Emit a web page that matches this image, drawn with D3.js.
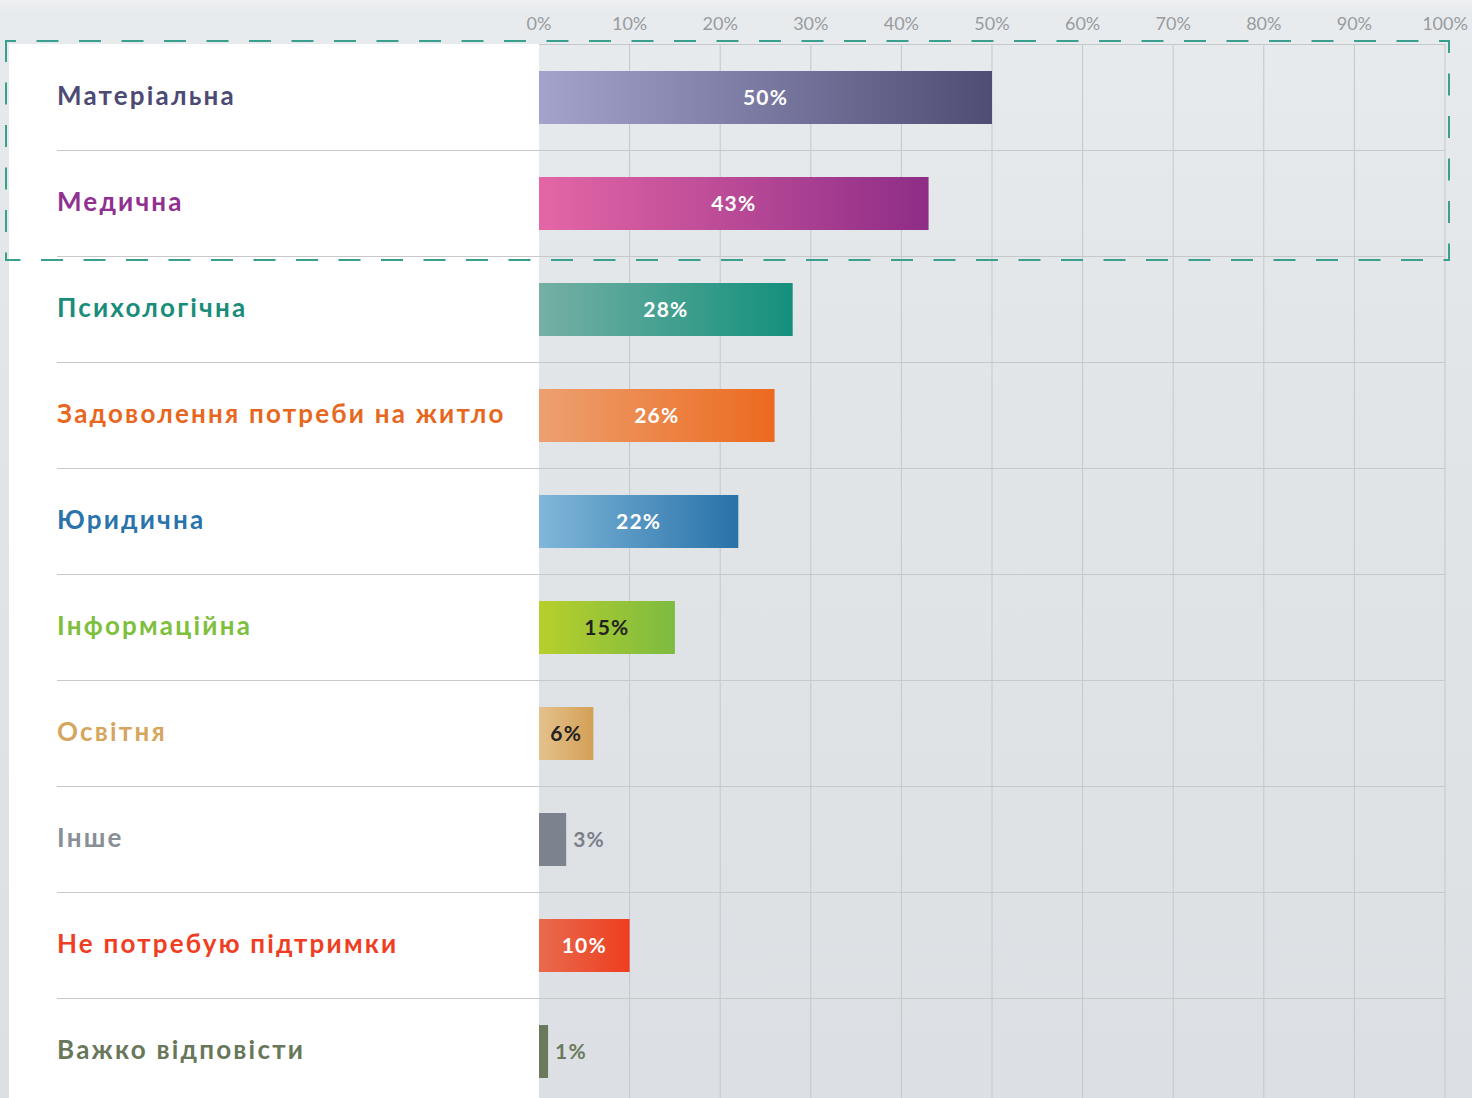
<!DOCTYPE html>
<html lang="uk">
<head>
  <meta charset="UTF-8">
  <title>Потреби у підтримці</title>
  <script src="https://d3js.org/d3.v7.min.js"></script>
  <style>
    body {
      margin: 0;
      background: linear-gradient(to bottom, #eef0f2 0px, #e8ebed 12px, #e2e5e8 400px, #dcdfe3 100%);
      font-family: 'Lato', sans-serif;
      overflow: hidden;
    }
    #chart { display: block; }
    .tick-label { font-size: 18px; fill: #979b9f; font-weight: 400; }
    .cat-label { font-size: 26px; font-weight: 700; letter-spacing: 2.2px; }
    .val-label { font-size: 21px; font-weight: 700; letter-spacing: 1.2px; }
  </style>
</head>
<body>
  <svg id="chart"></svg>

  <script>
    const categories = [
      "Матеріальна",
      "Медична",
      "Психологічна",
      "Задоволення потреби на житло",
      "Юридична",
      "Інформаційна",
      "Освітня",
      "Інше",
      "Не потребую підтримки",
      "Важко відповісти"
    ];
    const values = [50, 43, 28, 26, 22, 15, 6, 3, 10, 1];
    const ticks = [0, 10, 20, 30, 40, 50, 60, 70, 80, 90, 100];

    const labelColors = ["#4d4a73", "#903090", "#1a8c7a", "#e8671e", "#2a73ab",
                         "#7ebf3e", "#d6a55e", "#8a8f97", "#ef3e23", "#68775a"];
    const barFrom = ["#a3a3cc", "#e466a6", "#75b0a4", "#eda070", "#80b7da",
                     "#b7cf2c", "#e4c28c", "#7c838f", "#e96a4e", "#6b7a5c"];
    const barTo   = ["#4f4d74", "#8e2d87", "#13907c", "#ec6a1f", "#2872a8",
                     "#7dbb40", "#d4a057", "#7c838f", "#ee3e1f", "#6b7a5c"];
    const valColors = ["#fff", "#fff", "#fff", "#fff", "#fff",
                       "#222", "#222", "#7a808a", "#fff", "#6b7a5c"];

    const W = 1472, H = 1098;
    const svg = d3.select("#chart").attr("width", W).attr("height", H);

    const x = d3.scaleLinear().domain([0, 100]).range([539, 1445]);
    const y = d3.scaleBand().domain(categories).range([44, 44 + 106 * categories.length]);
    const barH = 53;

    // gradients
    const defs = svg.append("defs");
    categories.forEach((c, i) => {
      const g = defs.append("linearGradient").attr("id", "grad" + i)
        .attr("x1", "0%").attr("x2", "100%").attr("y1", "0%").attr("y2", "0%");
      g.append("stop").attr("offset", "0%").attr("stop-color", barFrom[i]);
      g.append("stop").attr("offset", "100%").attr("stop-color", barTo[i]);
    });

    // white label panel
    svg.append("rect")
      .attr("x", 9).attr("y", 44)
      .attr("width", 539 - 9).attr("height", H - 44)
      .attr("fill", "#fff");

    // vertical gridlines
    svg.append("g").selectAll("line")
      .data(ticks.slice(1))
      .enter().append("line")
      .attr("x1", d => x(d)).attr("x2", d => x(d))
      .attr("y1", 44).attr("y2", H)
      .attr("stroke", "#c4c7cb").attr("stroke-width", 1);

    // top line of plot
    svg.append("line")
      .attr("x1", x(0)).attr("x2", x(100))
      .attr("y1", 44.5).attr("y2", 44.5)
      .attr("stroke", "#c4c7cb");

    // row separators
    svg.append("g").selectAll("line")
      .data(categories.slice(0, -1))
      .enter().append("line")
      .attr("x1", 57).attr("x2", x(100))
      .attr("y1", d => y(d) + y.bandwidth() + 0.5)
      .attr("y2", d => y(d) + y.bandwidth() + 0.5)
      .attr("stroke", "#c6c8cb").attr("stroke-width", 1);

    // tick labels
    svg.append("g").selectAll("text")
      .data(ticks)
      .enter().append("text")
      .attr("class", "tick-label")
      .attr("x", d => x(d))
      .attr("y", 30)
      .attr("text-anchor", "middle")
      .text(d => d + "%");

    // bars
    svg.append("g").selectAll("rect")
      .data(values)
      .enter().append("rect")
      .attr("x", x(0))
      .attr("y", (d, i) => y(categories[i]) + 27)
      .attr("width", d => x(d) - x(0))
      .attr("height", barH)
      .attr("fill", (d, i) => `url(#grad${i})`);

    // category labels
    svg.append("g").selectAll("text")
      .data(categories)
      .enter().append("text")
      .attr("class", "cat-label")
      .attr("x", 57)
      .attr("y", d => y(d) + 61)
      .attr("fill", (d, i) => labelColors[i])
      .text(d => d);

    // value labels
    svg.append("g").selectAll("text")
      .data(values)
      .enter().append("text")
      .attr("class", "val-label")
      .attr("x", d => d >= 6 ? (x(0) + x(d)) / 2 : x(d) + 7)
      .attr("y", (d, i) => y(categories[i]) + 61)
      .attr("text-anchor", d => d >= 6 ? "middle" : "start")
      .attr("fill", (d, i) => valColors[i])
      .text(d => d + "%");

    // dashed highlight box round the first two rows
    svg.append("rect")
      .attr("x", 6).attr("y", 41)
      .attr("width", 1449 - 6).attr("height", 260 - 41)
      .attr("fill", "none")
      .attr("stroke", "#3a9f8c")
      .attr("stroke-width", 2)
      .attr("stroke-dasharray", "22 20.5")
      .attr("stroke-dashoffset", 12);
  </script>
</body>
</html>
